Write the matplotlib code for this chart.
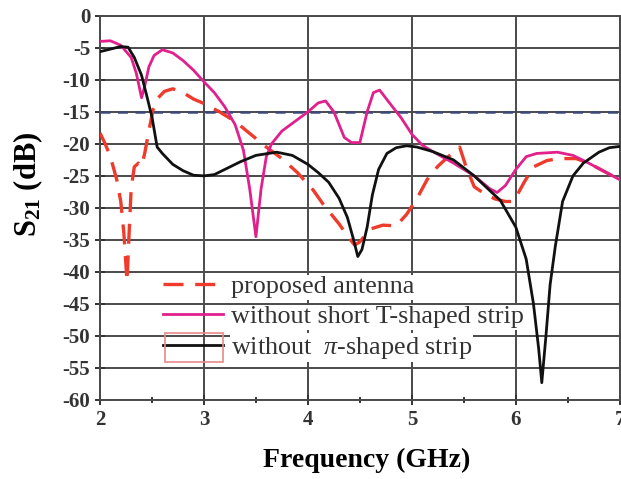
import matplotlib
matplotlib.use("Agg")
import matplotlib.pyplot as plt
from matplotlib.patches import Rectangle

plt.rcParams['font.family'] = ['Liberation Serif', 'DejaVu Serif']
plt.rcParams['mathtext.fontset'] = 'custom'
plt.rcParams['mathtext.rm'] = 'Liberation Serif'
plt.rcParams['mathtext.it'] = 'Liberation Serif:italic'
plt.rcParams['mathtext.bf'] = 'Liberation Serif:bold'
plt.rcParams['axes.unicode_minus'] = False

# %% DATA

f_prop = [2.0, 2.05, 2.1, 2.16, 2.2, 2.23, 2.26, 2.28, 2.3, 2.33, 2.37, 2.4, 2.43, 2.47,
          2.51, 2.56, 2.62, 2.7, 2.8, 2.9, 3.0, 3.15, 3.3, 3.45, 3.6, 3.75, 3.9, 4.05,
          4.15, 4.3, 4.4, 4.45, 4.5, 4.6, 4.72, 4.85, 4.95, 5.05, 5.15, 5.25, 5.35, 5.46,
          5.52, 5.6, 5.7, 5.8, 5.9, 5.98, 6.08, 6.17, 6.3, 6.42, 6.58, 6.7, 6.85, 7.0]
s_prop = [-18.3, -20, -22, -25.5, -29, -34, -41.5, -34, -27, -23.6, -23, -23.5, -21.5, -18,
          -14.7, -12.8, -11.8, -11.4, -12, -13, -13.7, -15, -16.5, -18.5, -20.5, -22.3, -24.5, -27.2,
          -29.5, -32.5, -34.8, -35.8, -35.3, -33.3, -32.7, -32.8, -31, -28.5, -25.5, -23.5, -22, -20.5,
          -23.5, -26.7, -27.8, -28.6, -29, -29, -26, -23.6, -22.6, -22.3, -22.3, -23, -24.3, -25.6]

f_no_t = [2.0, 2.1, 2.2, 2.3, 2.35, 2.4, 2.43, 2.47, 2.52, 2.6, 2.7, 2.8, 2.9, 3.0, 3.1,
          3.2, 3.3, 3.38, 3.44, 3.5, 3.55, 3.6, 3.65, 3.75, 3.9, 4.0, 4.1, 4.17, 4.25, 4.35,
          4.42, 4.5, 4.57, 4.63, 4.69, 4.78, 4.9, 5.0, 5.1, 5.2, 5.4, 5.6, 5.75, 5.82, 5.9,
          6.0, 6.1, 6.2, 6.4, 6.55, 6.7, 6.85, 7.0]
s_no_t = [-4.0, -3.9, -4.6, -6.5, -9, -12.8, -11, -8, -6.2, -5.3, -5.8, -7, -8.5, -10.3, -12,
          -14.2, -17, -21, -27, -34.5, -27, -22, -20, -18, -16.2, -15, -13.6, -13.3, -15, -19,
          -19.8, -19.8, -15, -12, -11.6, -13.5, -16, -18.5, -20.2, -21.2, -23, -25, -27, -27.6, -26.5,
          -24, -22, -21.5, -21.3, -21.8, -23, -24.3, -25.6]

f_no_pi = [2.0, 2.1, 2.2, 2.27, 2.33, 2.4, 2.45, 2.5, 2.55, 2.6, 2.7, 2.8, 2.9, 3.0, 3.1,
           3.2, 3.35, 3.5, 3.7, 3.85, 4.0, 4.1, 4.2, 4.3, 4.38, 4.44, 4.48, 4.52, 4.57, 4.62,
           4.68, 4.76, 4.85, 4.95, 5.05, 5.2, 5.4, 5.6, 5.75, 5.85, 6.0, 6.1, 6.17, 6.22, 6.25,
           6.29, 6.33, 6.38, 6.45, 6.55, 6.65, 6.8, 6.9, 7.0]
s_no_pi = [-5.6, -5.2, -4.8, -4.9, -6.5, -9.3, -12.5, -15.8, -20.5, -21.5, -23.2, -24.2, -24.9, -25.0, -24.8,
           -24, -22.8, -21.8, -21.3, -21.8, -23.2, -24.5, -26, -28.5, -31.5, -35, -37.6, -36.5, -33, -28,
           -24, -21.5, -20.6, -20.3, -20.5, -21.2, -22.5, -25, -27.3, -28.8, -33, -38, -45, -52, -57.3,
           -50, -42, -36, -29, -25, -23, -21.3, -20.6, -20.4]

ref_level = -15
labels = ['proposed antenna', 'without short T-shaped strip', r'without  $\pi$-shaped strip']

# %% PLOT

fig = plt.figure(figsize=(6.21, 4.79), dpi=100)
ax = fig.add_axes([0.161, 0.165, 0.837, 0.802])

ax.axhline(ref_level, color='#3c4a7a', lw=1.8, ls=(0, (4, 3)), zorder=3)
l1, = ax.plot(f_prop, s_prop, color='#ee3b2b', lw=2.4, ls=(0, (6, 3.5)), zorder=4)
l2, = ax.plot(f_no_t, s_no_t, color='#e0208c', lw=2.0, zorder=5)
l3, = ax.plot(f_no_pi, s_no_pi, color='#111111', lw=2.0, zorder=6)

ax.set_xlim(2, 7)
ax.set_ylim(-60, 0)
ax.set_xticks(range(2, 8))
ax.set_xticks([2.5, 3.5, 4.5, 5.5, 6.5], minor=True)
ax.set_yticks(range(-60, 1, 5))
ax.grid(True, which='major', color='#4a4a4a', lw=1.4)
for s in ax.spines.values():
    s.set_color('#4a4a4a')
    s.set_linewidth(1.4)
ax.tick_params(axis='both', which='major', direction='inout', length=7, width=1.4,
               color='#333333', labelsize=15, labelcolor='#333333')
ax.tick_params(axis='x', which='minor', direction='inout', length=4, width=1.4, color='#333333')
for lab in ax.get_xticklabels() + ax.get_yticklabels():
    lab.set_fontweight('bold')

ax.set_xlabel('Frequency (GHz)', fontsize=20, fontweight='bold')
ax.xaxis.set_label_coords(0.514, -0.125)
ax.set_ylabel(r'$\mathbf{S_{21}}$ (dB)', fontsize=22, fontweight='bold')
ax.yaxis.set_label_coords(-0.105, 0.5625)

leg = ax.legend([l1, l2, l3], labels, loc='upper left', bbox_to_anchor=(0.101, 0.352),
                frameon=False, fontsize=18.8, handlelength=2.3, handletextpad=0.3,
                labelspacing=0.25, borderaxespad=0)
leg.set_zorder(10)
for t in leg.get_texts():
    t.set_color('#333333')
    t.set_bbox(dict(facecolor='white', edgecolor='none', pad=1))

# selection box around last legend handle, as in the source figure
ax.add_patch(Rectangle((0.125, 0.099), 0.112, 0.0755, transform=ax.transAxes,
                       fill=False, edgecolor='#e88a8a', lw=1.2, zorder=11))

fig.savefig('out.png', dpi=100)
